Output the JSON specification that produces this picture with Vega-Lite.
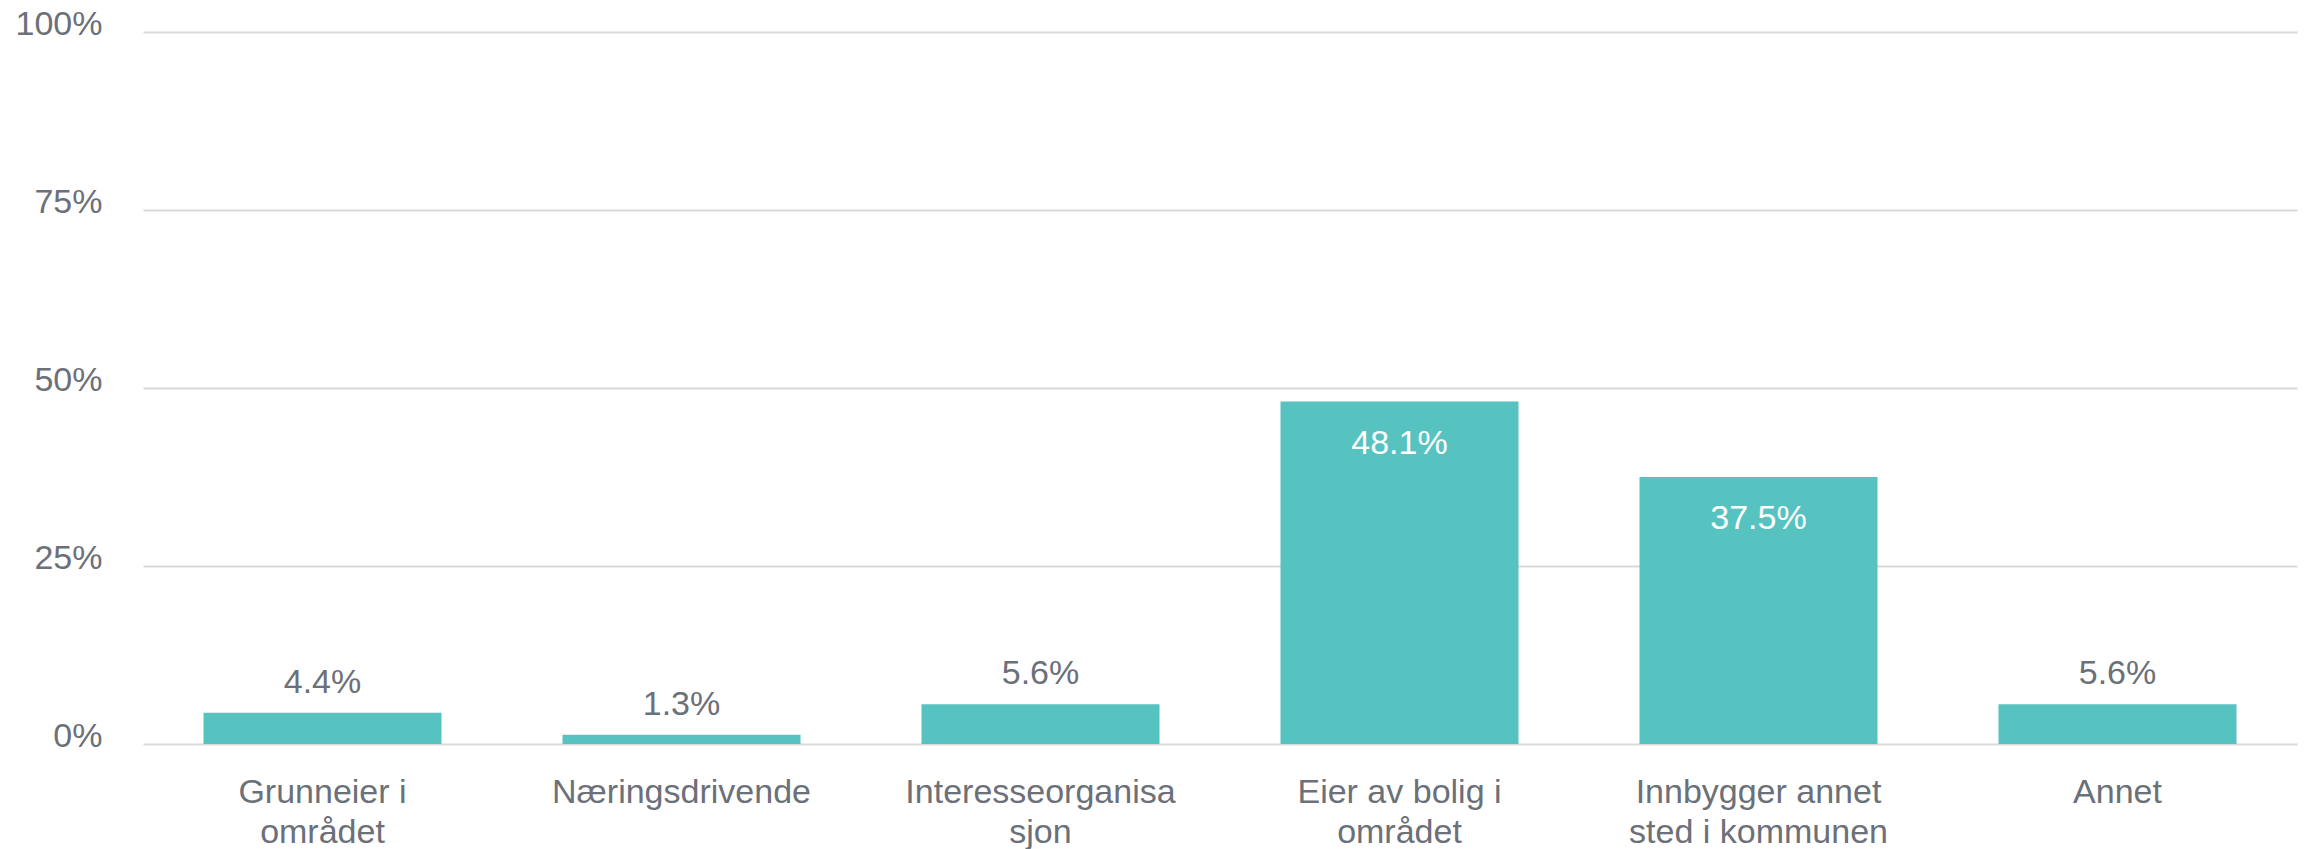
{
  "$schema": "https://vega.github.io/schema/vega-lite/v6.json",
  "width": 2154,
  "height": 712,
  "autosize": {"type": "none"},
  "padding": {"left": 143, "top": 32, "right": 13, "bottom": 105},
  "background": "white",
  "config": {
    "view": {"stroke": null},
    "font": "Liberation Sans"
  },
  "data": {
    "values": [
      {"kategori": "Grunneier i området", "andel": 0.044},
      {"kategori": "Næringsdrivende", "andel": 0.013},
      {"kategori": "Interesseorganisasjon", "andel": 0.056},
      {"kategori": "Eier av bolig i området", "andel": 0.481},
      {"kategori": "Innbygger annet sted i kommunen", "andel": 0.375},
      {"kategori": "Annet", "andel": 0.056}
    ]
  },
  "encoding": {
    "x": {
      "field": "kategori",
      "type": "nominal",
      "sort": null,
      "scale": {"paddingInner": 0.337, "paddingOuter": 0.1685},
      "axis": {
        "title": null,
        "domain": false,
        "ticks": false,
        "tickSize": 0,
        "labelAngle": 0,
        "labelFont": "Liberation Sans",
        "labelFontSize": 34,
        "labelColor": "#6b7079",
        "labelPadding": 31,
        "labelBaseline": "top",
        "labelLineHeight": 40,
        "labelLimit": 0,
        "labelExpr": "datum.value == 'Grunneier i området' ? ['Grunneier i', 'området'] : datum.value == 'Interesseorganisasjon' ? ['Interesseorganisa', 'sjon'] : datum.value == 'Eier av bolig i området' ? ['Eier av bolig i', 'området'] : datum.value == 'Innbygger annet sted i kommunen' ? ['Innbygger annet', 'sted i kommunen'] : datum.value"
      }
    },
    "y": {
      "field": "andel",
      "type": "quantitative",
      "scale": {"domain": [0, 1], "nice": false, "zero": true},
      "axis": {
        "title": null,
        "values": [0, 0.25, 0.5, 0.75, 1],
        "format": ".0%",
        "domain": false,
        "ticks": false,
        "tickSize": 0,
        "grid": true,
        "gridColor": "#d9d9d9",
        "gridWidth": 2,
        "labelFont": "Liberation Sans",
        "labelFontSize": 34,
        "labelColor": "#6b7079",
        "labelPadding": 41,
        "labelBaseline": "alphabetic",
        "labelOffset": 2,
        "labelFlush": false
      }
    }
  },
  "layer": [
    {
      "mark": {"type": "bar", "color": "#57c3c0"}
    },
    {
      "transform": [{"filter": "datum.andel < 0.2"}],
      "mark": {
        "type": "text",
        "baseline": "alphabetic",
        "align": "center",
        "dy": -20,
        "fontSize": 34,
        "font": "Liberation Sans",
        "color": "#6b7079"
      },
      "encoding": {"text": {"field": "andel", "type": "quantitative", "format": ".1%"}}
    },
    {
      "transform": [{"filter": "datum.andel >= 0.2"}],
      "mark": {
        "type": "text",
        "baseline": "alphabetic",
        "align": "center",
        "dy": 52,
        "fontSize": 34,
        "font": "Liberation Sans",
        "color": "#ffffff"
      },
      "encoding": {"text": {"field": "andel", "type": "quantitative", "format": ".1%"}}
    }
  ]
}
